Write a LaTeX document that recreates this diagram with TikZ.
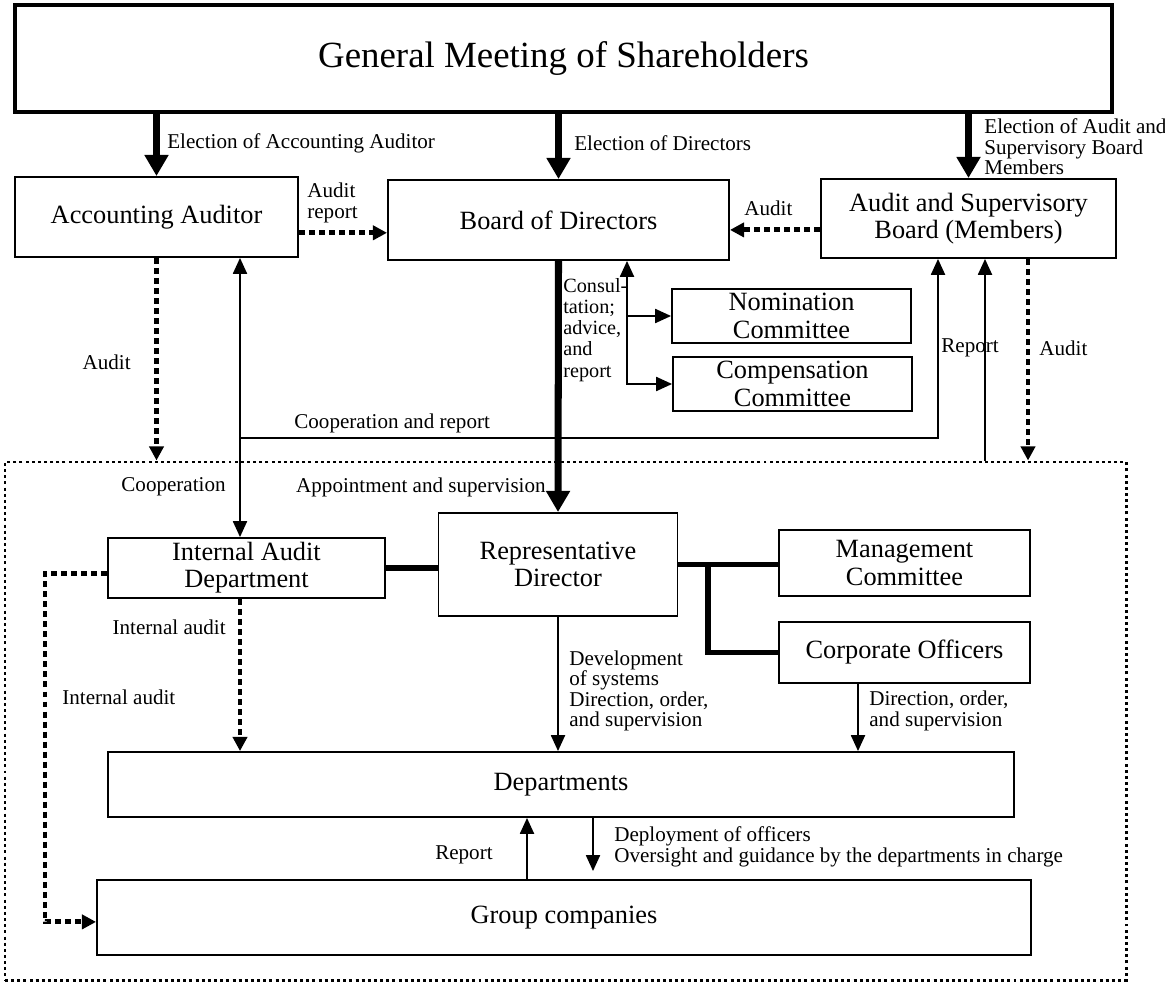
\documentclass[tikz,border=0pt]{standalone}
\usepackage{fontspec}
\setmainfont{Liberation Serif}
\usetikzlibrary{arrows.meta}

\begin{document}
\begin{tikzpicture}[x=0.02cm, y=-0.02cm,
	>={Triangle[width=8pt,length=9pt]},
	box/.style 2 args={draw, line width=1.1pt, align=center, inner sep=0pt,
		minimum width=#1*0.02cm, minimum height=#2*0.02cm,
		font=\fontsize{15}{15.5}\selectfont},
	grpframe/.style={draw, line width=1.7pt, dash pattern=on 1.7pt off 1.8pt, inner sep=0pt,
		minimum width=1121*0.02cm, minimum height=518*0.02cm},
	lbl/.style={align=left, inner sep=0pt, font=\fontsize{12}{11.6}\selectfont},
	heavy/.style={-{Triangle[width=13pt,length=12pt]}, line width=4pt},
	fine/.style={line width=0.9pt},
	conn/.style={line width=3pt},
	dotarrow/.style={-{Triangle[width=8pt,length=8pt]}, line width=2.8pt, dash pattern=on 3.4pt off 2.3pt}]
	\useasboundingbox (0,0) rectangle (1165,982);

	% boxes
	\node[box={1097}{107}, line width=1.8pt, font=\fontsize{21}{25}\selectfont] (GM) at (563.5,58.5) {General Meeting of Shareholders};
	\node[box={283}{80}] (AA) at (156.5,217) {Accounting Auditor};
	\node[box={341}{80}] (BoD) at (558.5,220) {Board of Directors};
	\node[box={295}{79}] (ASB) at (968.5,218.5) {Audit and Supervisory\\Board (Members)};
	\node[box={239}{54}] (NC) at (791.5,316) {Nomination\\Committee};
	\node[box={239}{54}] (CC) at (792.5,384) {Compensation\\Committee};
	\node[grpframe] (grp) at (565.5,721) {};
	\node[box={277}{60}] (IAD) at (246.5,568) {Internal Audit\\Department};
	\node[box={239}{103}] (RD) at (558,564.5) {Representative\\Director};
	\node[box={251}{66}] (MC) at (904.5,563) {Management\\Committee};
	\node[box={251}{61}] (CO) at (904.5,652.5) {Corporate Officers};
	\node[box={906}{65}] (Dept) at (561,784.5) {Departments};
	\node[box={934}{75}] (GC) at (564,917.5) {Group companies};

	% columns of the connectors
	\coordinate (xcoop) at (240,438);
	\coordinate (xasb) at (938,438);
	\coordinate (xrep) at (985,0);
	\coordinate (xaud) at (1028,0);
	\coordinate (xcons) at (627,0);
	\coordinate (xbr) at (708,0);
	\coordinate (xco) at (858,0);
	\coordinate (xleft) at (45,0);
	\coordinate (xgrep) at (527,0);
	\coordinate (depEnd) at (593,871);

	% elections
	\draw[heavy] (GM.south -| AA.north) -- (AA.north);
	\draw[heavy] (GM.south -| BoD.north) -- (BoD.north);
	\draw[heavy] (GM.south -| ASB.north) -- (ASB.north);
	\node[lbl, anchor=west] (tElAA) at (167,143) {Election of Accounting Auditor};
	\node[lbl, anchor=west] (tElBD) at (574,143) {Election of Directors};
	\node[lbl, anchor=west] (tElASB) at (984,147) {Election of Audit and\\Supervisory Board\\Members};

	% audits around the board
	\draw[dotarrow] ([yshift=-9pt]AA.east) -- ([yshift=-9pt]AA.east -| BoD.west);
	\draw[dotarrow] ([yshift=-6.5pt]ASB.west) -- ([yshift=-6.5pt]ASB.west -| BoD.east);
	\node[lbl, anchor=west] (tAudRep) at (307,203) {Audit\\report};
	\node[lbl, anchor=west] (tAudBD) at (744,208) {Audit};

	\draw[dotarrow] (AA.south) -- (AA.south |- grp.north);
	\node[lbl, anchor=east] (tAudAA) at (131,362) {Audit};
	\draw[fine, <->] (xcoop |- AA.south) -- (xcoop |- IAD.north);
	\draw[fine, ->] (xcoop) -- (xasb) -- (xasb |- ASB.south);
	\node[lbl, anchor=west] (tCoopRep) at (294,423) {Cooperation and report};
	\node[lbl, anchor=east] (tCoop) at (226,487) {Cooperation};

	\node[lbl, anchor=west] (tRepASB) at (941,348) {Report};
	\node[lbl, anchor=west] (tAudASB) at (1039,348) {Audit};
	\draw[fine, ->] (xrep |- grp.north) -- (xrep |- ASB.south);
	\draw[dotarrow] (xaud |- ASB.south) -- (xaud |- grp.north);

	% board and committees
	\draw[heavy] (BoD.south) -- (RD.north);
	\node[lbl, anchor=east] (tAppt) at (546,487) {Appointment and supervision};
	\draw[fine, <->] (xcons |- BoD.south) -- (xcons |- CC.west) -- (CC.west);
	\draw[fine, ->] (xcons |- NC.west) -- (NC.west);
	\node[lbl, anchor=west, font=\fontsize{11.5}{12}\selectfont] (tCons) at (563,330) {Consul-\\tation;\\advice,\\and\\report};

	% executive side
	\draw[conn] (IAD.east) -- (IAD.east -| RD.west);
	\draw[conn] (RD.east) -- (RD.east -| MC.west);
	\draw[conn] (xbr |- RD.east) -- (xbr |- CO.west) -- (CO.west);
	\draw[fine, ->] (RD.south) -- (RD.south |- Dept.north);
	\draw[fine, ->] (xco |- CO.south) -- (xco |- Dept.north);
	\node[lbl, anchor=west] (tDev) at (569,691) {Development\\of systems\\Direction, order,\\and supervision};
	\node[lbl, anchor=west] (tDir) at (869,711) {Direction, order,\\and supervision};

	% internal audit
	\draw[dotarrow] (xcoop |- IAD.south) -- (xcoop |- Dept.north);
	\draw[dotarrow] ([yshift=-3pt]IAD.west) -- ([yshift=-3pt]IAD.west -| xleft) -- ([yshift=-2.5pt]xleft |- GC.west) -- ([yshift=-2.5pt]GC.west);
	\node[lbl, anchor=east] (tIntA) at (226,627) {Internal audit};
	\node[lbl, anchor=west] (tIntB) at (62,697) {Internal audit};

	% group companies
	\draw[fine, ->] (xgrep |- GC.north) -- (xgrep |- Dept.south);
	\draw[fine, ->] (depEnd |- Dept.south) -- (depEnd);
	\node[lbl, anchor=east] (tRepGC) at (493,855) {Report};
	\node[lbl, anchor=west] (tDepl) at (614,847) {Deployment of officers\\Oversight and guidance by the departments in charge};
\end{tikzpicture}
\end{document}
